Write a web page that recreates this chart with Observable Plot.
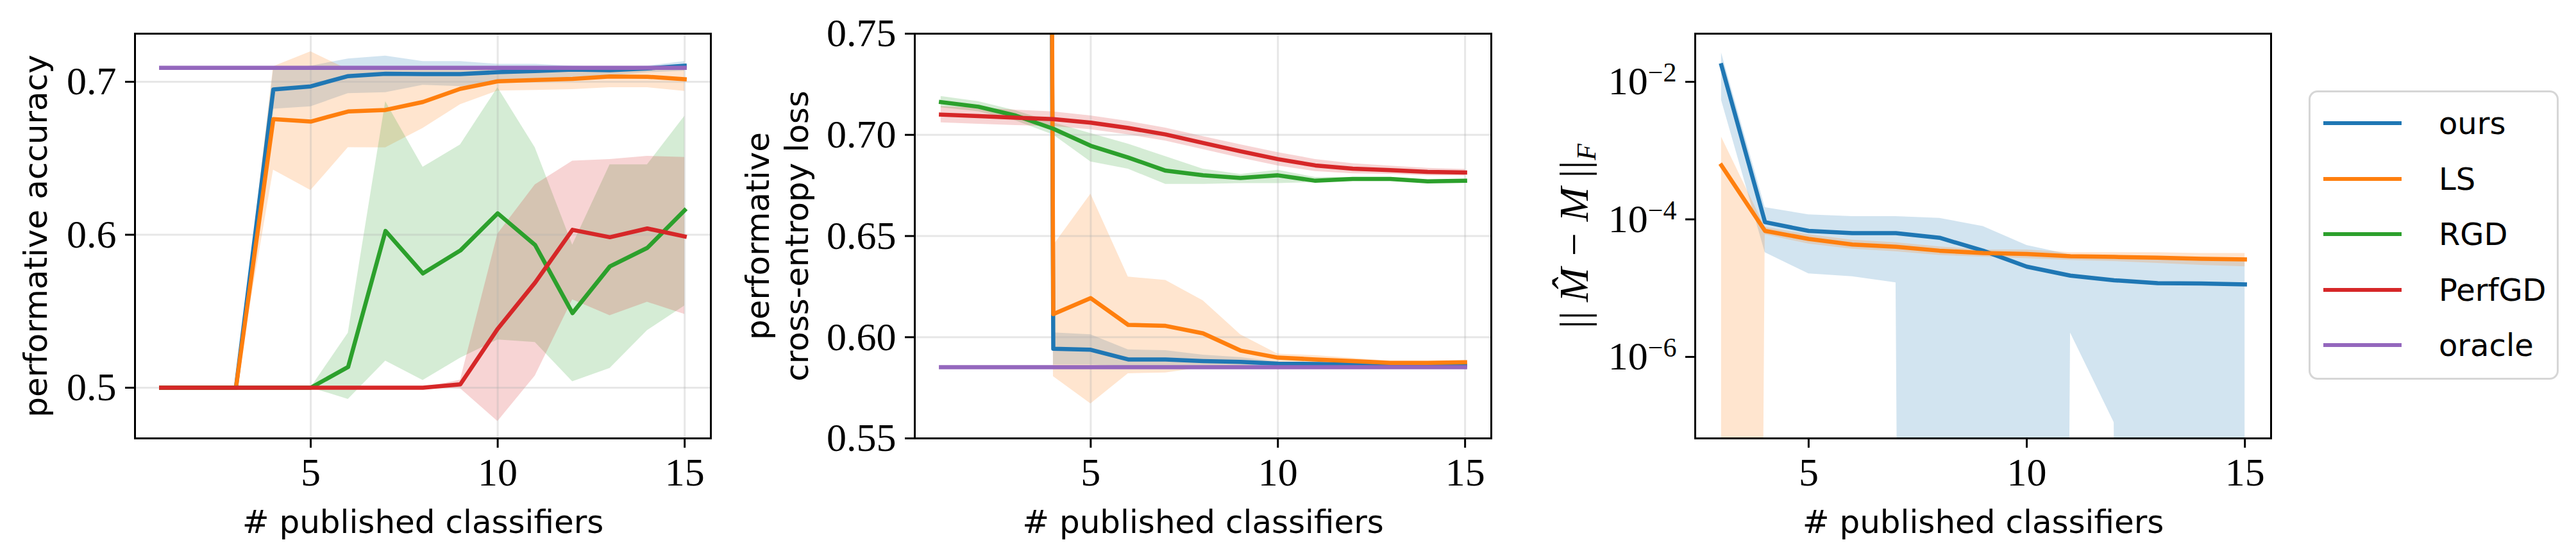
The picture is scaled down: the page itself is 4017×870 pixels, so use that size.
<!DOCTYPE html>
<html><head><meta charset="utf-8">
<script src="https://cdn.jsdelivr.net/npm/d3@7"></script>
<script src="https://cdn.jsdelivr.net/npm/@observablehq/plot@0.6"></script>
<style>
html,body{margin:0;padding:0;background:#fff;}
#root{position:relative;width:4017px;height:870px;overflow:hidden;background:#fff;}
.panel{position:absolute;top:0;}
.panel svg{overflow:visible;}
.legend{position:absolute;left:3600px;top:141px;width:390px;height:451px;box-sizing:border-box;border:3.5px solid #d6d6d6;border-radius:14px;background:#fff;}
.lline{position:absolute;left:3623px;width:122px;height:6px;}
.ltext{position:absolute;left:3803px;height:60px;line-height:60px;font-family:"DejaVu Sans",sans-serif;font-size:48px;color:#000;white-space:nowrap;}
</style></head><body><div id="root"></div>
<script>
// ---------- categories ----------
const rounds = [1,2,3,4,5,6,7,8,9,10,11,12,13,14,15];
const roundsNorm = [3,4,5,6,7,8,9,10,11,12,13,14,15];
const methodNames = ["ours","LS","RGD","PerfGD","oracle"];
const methodColors = ["#1f77b4","#ff7f0e","#2ca02c","#d62728","#9467bd"];
const xTickValues = [5,10,15];
const accTicks = [0.5,0.6,0.7];
const lossTicks = [0.55,0.60,0.65,0.70,0.75];
const normTicks = [1e-2,1e-4,1e-6];
const xLabel = "# published classifiers";
const accLabel = "performative accuracy";
const lossLabel = "performative\ncross-entropy loss";

// ---------- panel 1: performative accuracy ----------
const accOurs   = [0.5,0.5,0.5,0.695,0.697,0.7037,0.7052,0.705,0.705,0.7063,0.707,0.708,0.7075,0.7087,0.7105];
const accOursLo = [0.5,0.5,0.5,0.6822,0.6838,0.6923,0.6930,0.6978,0.697,0.699,0.701,0.703,0.704,0.706,0.707];
const accOursHi = [0.5,0.5,0.5,0.708,0.7103,0.715,0.7169,0.7133,0.7133,0.7115,0.7115,0.7103,0.7098,0.7103,0.7133];
const accLS     = [0.5,0.5,0.5,0.6756,0.674,0.6806,0.6816,0.6868,0.6954,0.7003,0.7012,0.7019,0.7035,0.7033,0.7017];
const accLSLo   = [0.5,0.5,0.5,0.6424,0.629,0.657,0.6569,0.6696,0.6851,0.694,0.6945,0.695,0.6962,0.6962,0.6938];
const accLSHi   = [0.5,0.5,0.5,0.710,0.7197,0.708,0.7085,0.7075,0.708,0.708,0.708,0.7085,0.709,0.709,0.7085];
const accRGD    = [0.5,0.5,0.5,0.5,0.5,0.5136,0.6025,0.5747,0.5897,0.614,0.5933,0.5488,0.5793,0.5914,0.616];
const accRGDLo  = [0.5,0.5,0.5,0.5,0.5,0.4925,0.5175,0.5048,0.5194,0.5313,0.5297,0.504,0.5127,0.5374,0.5536];
const accRGDHi  = [0.5,0.5,0.5,0.5,0.5,0.5358,0.6871,0.6442,0.6588,0.6962,0.6569,0.5933,0.6458,0.6458,0.6776];
const accPerf   = [0.5,0.5,0.5,0.5,0.5,0.5,0.5,0.5,0.5022,0.5385,0.5687,0.6032,0.5984,0.6041,0.5989];
const accPerfLo = [0.5,0.5,0.5,0.5,0.5,0.5,0.5,0.5,0.4995,0.478,0.5078,0.5576,0.5472,0.556,0.548];
const accPerfHi = [0.5,0.5,0.5,0.5,0.5,0.5,0.5,0.5,0.505,0.6005,0.6327,0.6482,0.6493,0.6514,0.6506];
const accOracle = [0.7091,0.7091,0.7091,0.7091,0.7091,0.7091,0.7091,0.7091,0.7091,0.7091,0.7091,0.7091,0.7091,0.7091,0.7091];

// ---------- panel 2: performative cross-entropy loss ----------
const lossOurs   = [5,5,5,0.5943,0.5938,0.589,0.589,0.5882,0.5878,0.5869,0.5868,0.5866,0.5864,0.5863,0.5861];
const lossOursLo = [5,5,5,0.5864,0.5864,0.5855,0.5856,0.5855,0.5856,0.5861,0.586,0.5859,0.5858,0.5857,0.5856];
const lossOursHi = [5,5,5,0.6022,0.6013,0.5938,0.5934,0.5912,0.590,0.5877,0.5876,0.5873,0.587,0.5869,0.5866];
const lossLS     = [5,5,5,0.6114,0.6193,0.6061,0.6056,0.6019,0.5934,0.5899,0.589,0.5882,0.5873,0.5873,0.5876];
const lossLSLo   = [5,5,5,0.5806,0.5671,0.582,0.5824,0.585,0.5855,0.5873,0.587,0.5868,0.5865,0.5865,0.5868];
const lossLSHi   = [5,5,5,0.6453,0.6708,0.6298,0.6281,0.6181,0.6013,0.5917,0.591,0.5896,0.5882,0.5881,0.5885];
const lossRGD    = [0.7162,0.7139,0.7095,0.703,0.6946,0.6888,0.6823,0.680,0.6787,0.680,0.6773,0.6782,0.6782,0.677,0.6773];
const lossRGDLo  = [0.7135,0.7115,0.707,0.700,0.6867,0.6831,0.6756,0.6756,0.676,0.676,0.6765,0.6775,0.6775,0.6763,0.6766];
const lossRGDHi  = [0.719,0.7165,0.712,0.706,0.7007,0.6955,0.6893,0.6831,0.6805,0.6826,0.679,0.679,0.679,0.6777,0.678];
const lossPerf   = [0.7100,0.7093,0.7085,0.7078,0.706,0.7034,0.7002,0.696,0.6919,0.688,0.6849,0.6833,0.6826,0.6817,0.6814];
const lossPerfLo = [0.706,0.7053,0.7047,0.7042,0.7026,0.7001,0.697,0.6928,0.6886,0.6847,0.6819,0.6808,0.6806,0.6799,0.6798];
const lossPerfHi = [0.714,0.7133,0.7123,0.7114,0.7094,0.7067,0.7034,0.6992,0.6952,0.6913,0.6879,0.6858,0.6846,0.6835,0.683];
const lossOracle = [0.5852,0.5852,0.5852,0.5852,0.5852,0.5852,0.5852,0.5852,0.5852,0.5852,0.5852,0.5852,0.5852,0.5852,0.5852];

// ---------- panel 3: ||M_hat - M||_F (0 = non-positive lower bound) ----------
const normOurs   = [1.74e-2,9.1e-5,6.8e-5,6.3e-5,6.3e-5,5.4e-5,3.5e-5,2.05e-5,1.52e-5,1.30e-5,1.18e-5,1.17e-5,1.13e-5];
const normOursLo = [5.4e-3,3.3e-5,1.62e-5,1.47e-5,1.2e-5,0,0,0,2.23e-6,1.11e-7,0,0,0];
const normOursHi = [2.64e-2,1.49e-4,1.17e-4,1.10e-4,1.10e-4,1.04e-4,7.9e-5,4.2e-5,3.05e-5,2.67e-5,2.6e-5,2.5e-5,2.46e-5];
const normLS     = [6.1e-4,6.8e-5,5.2e-5,4.3e-5,4.0e-5,3.5e-5,3.24e-5,3.13e-5,2.91e-5,2.84e-5,2.77e-5,2.67e-5,2.61e-5];
const normLSLo   = [0,6.0e-5,4.4e-5,3.7e-5,3.4e-5,3.0e-5,2.85e-5,2.7e-5,2.55e-5,2.45e-5,2.3e-5,2.15e-5,2.05e-5];
const normLSHi   = [1.58e-3,7.7e-5,6.0e-5,5.0e-5,4.6e-5,4.0e-5,3.6e-5,3.6e-5,3.3e-5,3.3e-5,3.3e-5,3.2e-5,3.2e-5];

const SANS = "DejaVu Sans";
const SERIF = "Liberation Serif";

function rows(xs, m, lo, hi) {
  return xs.map((x, i) => ({x, m: m[i], lo: lo ? lo[i] : null, hi: hi ? hi[i] : null}));
}

function panel(cfg) {
  const marks = [];
  const floor = cfg.yType === "log" ? (v => Math.max(v, 1e-100)) : (v => v);
  cfg.series.forEach(s => {
    if (s.hasBand) marks.push(Plot.areaY(s.rows, {x: "x", y1: d => floor(d.lo), y2: d => d.hi, fill: s.color, fillOpacity: 0.2, clip: true}));
  });
  if (cfg.grid) {
    marks.push(Plot.gridX(xTickValues, {stroke: "#b0b0b0", strokeOpacity: 0.3, strokeWidth: 3}));
    marks.push(Plot.gridY(cfg.yTicks, {stroke: "#b0b0b0", strokeOpacity: 0.3, strokeWidth: 3}));
  }
  cfg.series.forEach(s => {
    marks.push(Plot.line(s.rows, {x: "x", y: "m", stroke: s.color, strokeWidth: 6.5, strokeLinejoin: "round", strokeLinecap: "square", clip: true}));
  });
  marks.push(Plot.axisX(xTickValues, {tickSize: 15, tickPadding: 14, strokeWidth: 3, fontSize: 62, fontFamily: SERIF, label: null, tickFormat: d => String(d)}));
  marks.push(Plot.axisY(cfg.yTicks, {tickSize: 15, tickPadding: 14, strokeWidth: 3, fontSize: 62, fontFamily: SERIF, label: null, tickFormat: cfg.yFormat}));
  marks.push(Plot.frame({stroke: "black", strokeWidth: 3}));
  marks.push(Plot.text([xLabel], {text: d => d, frameAnchor: "bottom", dy: 147, lineAnchor: "bottom", textAnchor: "middle", fontSize: 50, fontFamily: SANS, fill: "black"}));
  marks.push(Plot.text([cfg.ylabel], {text: d => d, frameAnchor: "left", dx: cfg.ylabelDx, rotate: -90, lineAnchor: "bottom", textAnchor: "middle", lineHeight: 1.22, fontSize: cfg.ylabelSize || 50, fontFamily: cfg.ylabelFont || SANS, fill: "black"}));
  const svg = Plot.plot({
    width: cfg.width, height: 870,
    marginLeft: cfg.ml, marginRight: cfg.mr, marginTop: 52, marginBottom: 187,
    x: {domain: cfg.xDomain},
    y: {type: cfg.yType || "linear", domain: cfg.yDomain},
    style: {fontFamily: SERIF, background: "transparent", overflow: "visible", color: "black"},
    marks
  });
  svg.querySelectorAll("g[aria-label*='tick label']").forEach(g => {
    g.style.fontFamily = "'Liberation Serif', serif";
    g.style.fontSize = "62px";
    g.querySelectorAll("text").forEach(t => { t.style.fontFamily = "'Liberation Serif', serif"; });
  });
  return svg;
}

const root = d3.select("#root");
function place(svg, left) {
  const div = root.append("div").attr("class", "panel").style("left", left + "px");
  div.node().appendChild(svg);
  return svg;
}

// panel 1
const acc = [[accOurs, accOursLo, accOursHi], [accLS, accLSLo, accLSHi], [accRGD, accRGDLo, accRGDHi], [accPerf, accPerfLo, accPerfHi], [accOracle, null, null]];
place(panel({
  width: 1150, ml: 210, mr: 42,
  xDomain: [0.3, 15.7], yDomain: [0.46688, 0.73145], yTicks: accTicks,
  yFormat: d3.format(".1f"), grid: true,
  ylabel: accLabel, ylabelDx: -138,
  series: acc.map((a, i) => ({rows: rows(rounds, a[0], a[1], a[2]), hasBand: !!a[1], color: methodColors[i]}))
}), 0);

// panel 2
const loss = [[lossOurs, lossOursLo, lossOursHi], [lossLS, lossLSLo, lossLSHi], [lossRGD, lossRGDLo, lossRGDHi], [lossPerf, lossPerfLo, lossPerfHi], [lossOracle, null, null]];
place(panel({
  width: 1250, ml: 276, mr: 75,
  xDomain: [0.3, 15.7], yDomain: [0.55, 0.75], yTicks: lossTicks,
  yFormat: d3.format(".2f"), grid: true,
  ylabel: lossLabel, ylabelDx: -167,
  series: loss.map((a, i) => ({rows: rows(rounds, a[0], a[1], a[2]), hasBand: !!a[1], color: methodColors[i]}))
}), 1150);

// panel 3
const Y3 = "||M - M||F";
const norm = [[normOurs, normOursLo, normOursHi], [normLS, normLSLo, normLSHi]];
const svg3 = place(panel({
  width: 1190, ml: 243, mr: 49,
  xDomain: [2.4, 15.6], yType: "log", yDomain: [Math.pow(10, -7.185), Math.pow(10, -1.30)], yTicks: normTicks,
  yFormat: d => "10^" + Math.round(Math.log10(d)), grid: false,
  ylabel: Y3, ylabelDx: -171, ylabelFont: SERIF, ylabelSize: 64,
  series: norm.map((a, i) => ({rows: rows(roundsNorm, a[0], a[1], a[2]), hasBand: true, color: methodColors[i]}))
}), 2400);

// superscripts for the log ticks, math label for panel 3
d3.select(svg3).selectAll("text").each(function() {
  const t = d3.select(this);
  const s = this.textContent;
  const m = /^10\^(-?\d+)$/.exec(s);
  if (m) {
    t.text(null);
    t.append("tspan").text("10");
    t.append("tspan").attr("dy", "-0.48em").style("font-size", "42px").text(m[1].replace("-", "\u2212"));
  } else if (s === Y3) {
    t.text(null);
    t.attr("textLength", 288).attr("lengthAdjust", "spacing").attr("y", "0.05em");
    t.append("tspan").text("||\u2009");
    t.append("tspan").attr("font-style", "italic").text("M\u0302");
    t.append("tspan").text(" \u2212 ");
    t.append("tspan").attr("font-style", "italic").text("M");
    t.append("tspan").text("\u2009||");
    t.append("tspan").attr("font-style", "italic").style("font-size", "42px").attr("dy", "0.3em").text("F");
  }
});

// legend
root.append("div").attr("class", "legend");
methodNames.forEach((name, i) => {
  const yc = 192 + i * 86.5;
  root.append("div").attr("class", "lline").style("top", (yc - 3) + "px").style("background", methodColors[i]);
  root.append("div").attr("class", "ltext").style("top", (yc - 30) + "px").text(name);
});
</script>
</body></html>
